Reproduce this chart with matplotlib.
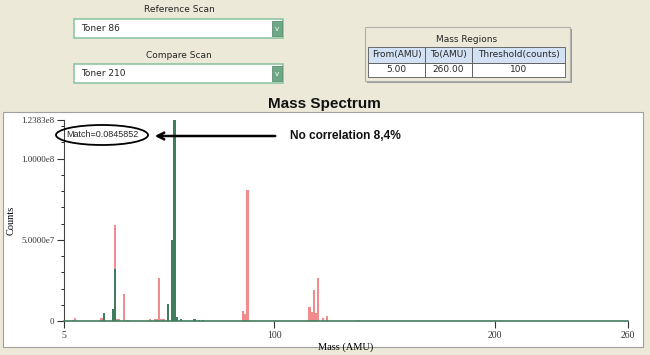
import matplotlib
matplotlib.use('Agg')
import matplotlib.pyplot as plt
from matplotlib.patches import Rectangle, Ellipse, FancyArrowPatch

W, H = 650, 355

# reference scan (green) and compare scan (red) peaks
ref_mass = [23, 27, 28, 52, 54, 55, 56, 58, 64, 66, 68]
ref_counts = [5.1e6, 7.3e6, 3.2e7, 1.03e7, 5.0e7, 1.2383e8, 2.3e6, 1.5e6, 1.0e6, 0.8e6, 0.8e6]

cmp_mass = [9, 10, 22, 28, 29, 30, 32, 34, 44, 46, 47, 48, 49, 50,
            86, 87, 88, 116, 117, 118, 119, 120, 122, 124, 138]
cmp_counts = [0.8e6, 1.7e6, 1.8e6, 5.9e7, 1.5e6, 1.0e6, 1.64e7, 0.8e6, 1.2e6, 1.5e6, 1.5e6, 2.63e7, 1.2e6, 1.2e6,
              6.3e6, 4.5e6, 8.07e7, 8.8e6, 5.7e6, 1.9e7, 4.9e6, 2.63e7, 2.0e6, 3.0e6, 0.8e6]

x_ticks = [5, 100, 200, 260]
y_ticks = [0, 5e7, 1e8, 1.2383e8]
y_labels = ['0', '5.0000e7', '1.0000e8', '1.2383e8']

match_text = 'Match=0.0845852'
note_text = 'No correlation 8,4%'

GREEN = '#3f7d5e'
RED = '#f28b8e'
BG = '#ece9d8'
UI = ['DejaVu Sans']
ARIAL = ['Liberation Sans', 'DejaVu Sans']
SERIF = ['Liberation Serif', 'DejaVu Serif']


def fx(x):
    return x / W


def fy(y):
    return 1 - y / H


def rect(x0, y0, x1, y1, **kw):
    kw.setdefault('zorder', -5)
    fig.add_artist(Rectangle((fx(x0), fy(y1)), fx(x1 - x0), (y1 - y0) / H,
                             transform=fig.transFigure, **kw))


def label(x, y, s, **kw):
    kw.setdefault('family', UI)
    kw.setdefault('fontsize', 6.5)
    kw.setdefault('color', '#262626')
    fig.text(fx(x), fy(y), s, transform=fig.transFigure, va='center', **kw)


fig = plt.figure(figsize=(6.5, 3.55), dpi=100)
fig.patch.set_facecolor(BG)

# combo boxes
for cy, title, value in [(10, 'Reference Scan', 'Toner 86'), (55, 'Compare Scan', 'Toner 210')]:
    label(179, cy, title, ha='center')
    rect(74, cy + 9, 283, cy + 28, facecolor='white', edgecolor='#86c29c', lw=1.1)
    rect(272, cy + 11, 282, cy + 26, facecolor='#6fa886', edgecolor='#5a9072', lw=0.6, zorder=-4)
    label(277, cy + 19, 'v', ha='center', color='white', fontsize=5)
    label(81, cy + 18.5, value, ha='left')

# mass regions table
rect(367, 29, 572, 83, facecolor='#9a9a9a', edgecolor='none', zorder=-6)
rect(365, 27, 570, 81, facecolor=BG, edgecolor='#b0b0b0', lw=0.8)
label(467, 39, 'Mass Regions', ha='center')
cols = [(368, 425, 'From(AMU)', '5.00'), (425, 472, 'To(AMU)', '260.00'),
        (472, 565, 'Threshold(counts)', '100')]
for x0, x1, head, val in cols:
    rect(x0, 47, x1, 63, facecolor='#d2e2f4', edgecolor='#555555', lw=0.6, zorder=-4)
    rect(x0, 63, x1, 77, facecolor='white', edgecolor='#555555', lw=0.6, zorder=-4)
    label((x0 + x1) / 2, 55, head, ha='center')
    label((x0 + x1) / 2, 70, val, ha='center')

# chart panel
rect(3, 112, 643, 347, facecolor='white', edgecolor='#a0a0a0', lw=0.8)
label(324.5, 103.5, 'Mass Spectrum', ha='center', family=ARIAL, fontsize=11, weight='bold', color='#111111')

ax = fig.add_axes([fx(64), fy(321), fx(628 - 64), (321 - 120) / H])
ax.set_facecolor('white')
ax.bar(cmp_mass, cmp_counts, width=1.0, color=RED, linewidth=0, zorder=2)
ax.bar(ref_mass, ref_counts, width=1.0, color=GREEN, linewidth=0, zorder=3)

ax.set_xlim(5, 260)
ax.set_ylim(0, 1.2383e8)
ax.set_xticks(x_ticks)
ax.set_xticklabels([str(t) for t in x_ticks], family=SERIF, fontsize=7)
ax.set_yticks(y_ticks)
ax.set_yticklabels(y_labels, family=SERIF, fontsize=6.5)
ax.set_yticks([i * 1e7 for i in range(13)], minor=True)
ax.tick_params(axis='both', direction='out', length=5, width=0.8, pad=2, colors='#333333')
ax.tick_params(axis='y', which='minor', length=2.5, width=0.6)
for s in ['top', 'right']:
    ax.spines[s].set_visible(False)
ax.spines['left'].set_color('#444444')
ax.spines['bottom'].set_color(GREEN)
ax.spines['bottom'].set_linewidth(1.2)
ax.set_xlabel('Mass (AMU)', family=SERIF, fontsize=7.5, labelpad=2)
ax.set_ylabel('Counts', family=SERIF, fontsize=7.5, labelpad=4)

# annotation
fig.add_artist(Ellipse((fx(102), fy(135)), 92 / W, 20 / H, transform=fig.transFigure,
                       facecolor='none', edgecolor='black', lw=1.3, zorder=5))
label(102, 135, match_text, ha='center', family=ARIAL, zorder=6)
fig.add_artist(FancyArrowPatch((fx(278), fy(136)), (fx(152), fy(136)), transform=fig.transFigure,
                               arrowstyle='->', mutation_scale=12, lw=1.8, color='black', zorder=5))
label(290, 136.5, note_text, ha='left', family=ARIAL, fontsize=8.6, weight='bold', color='#111111')

fig.savefig('out.png', dpi=100, facecolor=fig.get_facecolor())
